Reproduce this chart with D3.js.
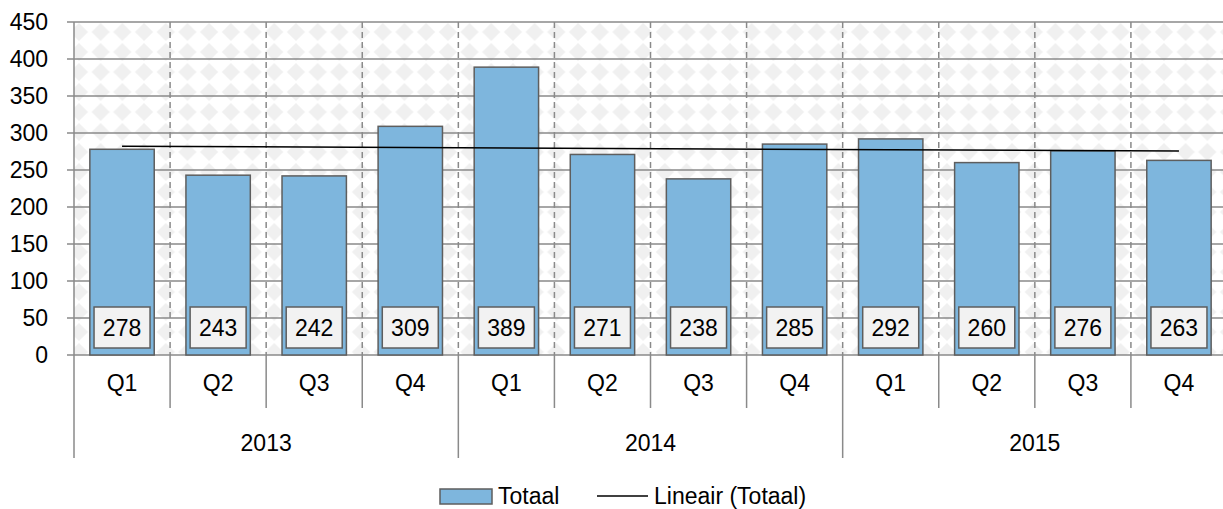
<!DOCTYPE html>
<html>
<head>
<meta charset="utf-8">
<script src="https://d3js.org/d3.v7.min.js"></script>
<style>
  body { margin: 0; background: #fff; }
  text { font-family: "Liberation Sans", Arial, sans-serif; fill: #000; }
</style>
</head>
<body>
<div id="chart"></div>
<script>
  // chart data
  var years = ["2013", "2014", "2015"];
  var quarters = ["Q1", "Q2", "Q3", "Q4"];
  var totaal = [278, 243, 242, 309, 389, 271, 238, 285, 292, 260, 276, 263];
  var yTicks = [0, 50, 100, 150, 200, 250, 300, 350, 400, 450];

  width = 1223;
  height = 509;
  margin = ({ top: 22, right: -4, bottom: 154, left: 74 });

  var keys = [];
  years.forEach(function (y) { quarters.forEach(function (q) { keys.push(y + "-" + q); }); });
  var rows = keys.map(function (k, i) { return { key: k, year: k.split("-")[0], q: k.split("-")[1], v: totaal[i] }; });

  var svg = d3.select("#chart").append("svg")
    .attr("width", width).attr("height", height);

  var y = d3.scaleLinear().domain([0, 450]).range([height - margin.bottom, margin.top]);
  var slot = d3.scaleBand().domain(keys).range([margin.left, width - margin.right]);
  var x = d3.scaleBand().domain(keys).range([margin.left, width - margin.right])
    .paddingInner(0.33).paddingOuter(0.165);

  // diamond background
  var defs = svg.append("defs");
  var pat = defs.append("pattern").attr("id", "diamonds")
    .attr("patternUnits", "userSpaceOnUse")
    .attr("x", 3).attr("y", 2)
    .attr("width", 21.7).attr("height", 20);
  pat.append("rect").attr("width", 21.7).attr("height", 20).attr("fill", "#fff");
  pat.append("path").attr("d", "M10.85,1 L19.85,10 L10.85,19 L1.85,10 Z").attr("fill", "#f0f0f0");

  var y0 = y(0), yTop = y(450);
  svg.append("rect")
    .attr("x", margin.left).attr("y", yTop)
    .attr("width", width - margin.right - margin.left).attr("height", y0 - yTop)
    .attr("fill", "url(#diamonds)");

  // horizontal gridlines + tick marks
  svg.append("g").selectAll("line").data(yTicks).join("line")
    .attr("x1", margin.left - 7).attr("x2", width)
    .attr("y1", function (d) { return y(d); }).attr("y2", function (d) { return y(d); })
    .attr("stroke", "#8a8a8a").attr("stroke-width", 1.5);

  // vertical dashed gridlines between categories
  var bounds = d3.range(1, keys.length).map(function (i) { return margin.left + i * slot.step(); });
  svg.append("g").selectAll("line").data(bounds).join("line")
    .attr("x1", function (d) { return d; }).attr("x2", function (d) { return d; })
    .attr("y1", yTop).attr("y2", y0)
    .attr("stroke", "#8a8a8a").attr("stroke-width", 1.5)
    .attr("stroke-dasharray", "6,4");

  // y labels
  svg.append("g").selectAll("text").data(yTicks).join("text")
    .attr("x", 48).attr("y", function (d) { return y(d); })
    .attr("dy", "0.36em").attr("text-anchor", "end")
    .attr("font-size", 23).text(function (d) { return d; });

  // trendline (least squares on the series)
  var n = totaal.length;
  var mx = d3.mean(d3.range(n)), my = d3.mean(totaal);
  var sxy = d3.sum(d3.range(n), function (i) { return (i - mx) * (totaal[i] - my); });
  var sxx = d3.sum(d3.range(n), function (i) { return (i - mx) * (i - mx); });
  var slope = sxy / sxx, icpt = my - slope * mx;

  // bars
  svg.append("g").selectAll("rect").data(rows).join("rect")
    .attr("x", function (d) { return x(d.key); })
    .attr("y", function (d) { return y(d.v); })
    .attr("width", x.bandwidth())
    .attr("height", function (d) { return y0 - y(d.v); })
    .attr("fill", "#7eb6dd").attr("stroke", "#5e5e5e").attr("stroke-width", 1.5);

  svg.append("line")
    .attr("x1", x(keys[0]) + x.bandwidth() / 2).attr("y1", y(icpt))
    .attr("x2", x(keys[n - 1]) + x.bandwidth() / 2).attr("y2", y(icpt + slope * (n - 1)))
    .attr("stroke", "#000").attr("stroke-width", 1.5);

  // value labels
  var lab = svg.append("g").selectAll("g").data(rows).join("g")
    .attr("transform", function (d) { return "translate(" + (x(d.key) + x.bandwidth() / 2) + "," + (y0 - 27.5) + ")"; });
  lab.append("rect")
    .attr("x", -28).attr("y", -20.5).attr("width", 56).attr("height", 41)
    .attr("fill", "#f2f2f2").attr("stroke", "#5e5e5e").attr("stroke-width", 1.5);
  lab.append("text").attr("text-anchor", "middle").attr("dy", "0.36em")
    .attr("font-size", 23).text(function (d) { return d.v; });

  // axes lines
  svg.append("line").attr("x1", margin.left).attr("x2", margin.left)
    .attr("y1", yTop).attr("y2", 458)
    .attr("stroke", "#8a8a8a").attr("stroke-width", 1.5);

  svg.append("g").selectAll("line").data(bounds).join("line")
    .attr("x1", function (d) { return d; }).attr("x2", function (d) { return d; })
    .attr("y1", y0).attr("y2", function (d, i) { return (i + 1) % 4 === 0 ? 458 : 408; })
    .attr("stroke", "#8a8a8a").attr("stroke-width", 1.5);

  // quarter labels
  svg.append("g").selectAll("text").data(rows).join("text")
    .attr("x", function (d) { return slot(d.key) + slot.bandwidth() / 2; })
    .attr("y", 383).attr("dy", "0.36em").attr("text-anchor", "middle")
    .attr("font-size", 23).text(function (d) { return d.q; });

  // year labels
  svg.append("g").selectAll("text").data(years).join("text")
    .attr("x", function (d, i) { return margin.left + (i * 4 + 2) * slot.step(); })
    .attr("y", 443).attr("dy", "0.36em").attr("text-anchor", "middle")
    .attr("font-size", 23).text(function (d) { return d; });

  // legend
  var leg = svg.append("g");
  leg.append("rect").attr("x", 440).attr("y", 489).attr("width", 52).attr("height", 15)
    .attr("fill", "#7eb6dd").attr("stroke", "#5e5e5e").attr("stroke-width", 1.5);
  leg.append("text").attr("x", 498).attr("y", 496).attr("dy", "0.36em")
    .attr("font-size", 23).text("Totaal");
  leg.append("line").attr("x1", 597).attr("x2", 648).attr("y1", 496).attr("y2", 496)
    .attr("stroke", "#000").attr("stroke-width", 1.5);
  leg.append("text").attr("x", 654).attr("y", 496).attr("dy", "0.36em")
    .attr("font-size", 23).text("Lineair (Totaal)");
</script>
</body>
</html>
